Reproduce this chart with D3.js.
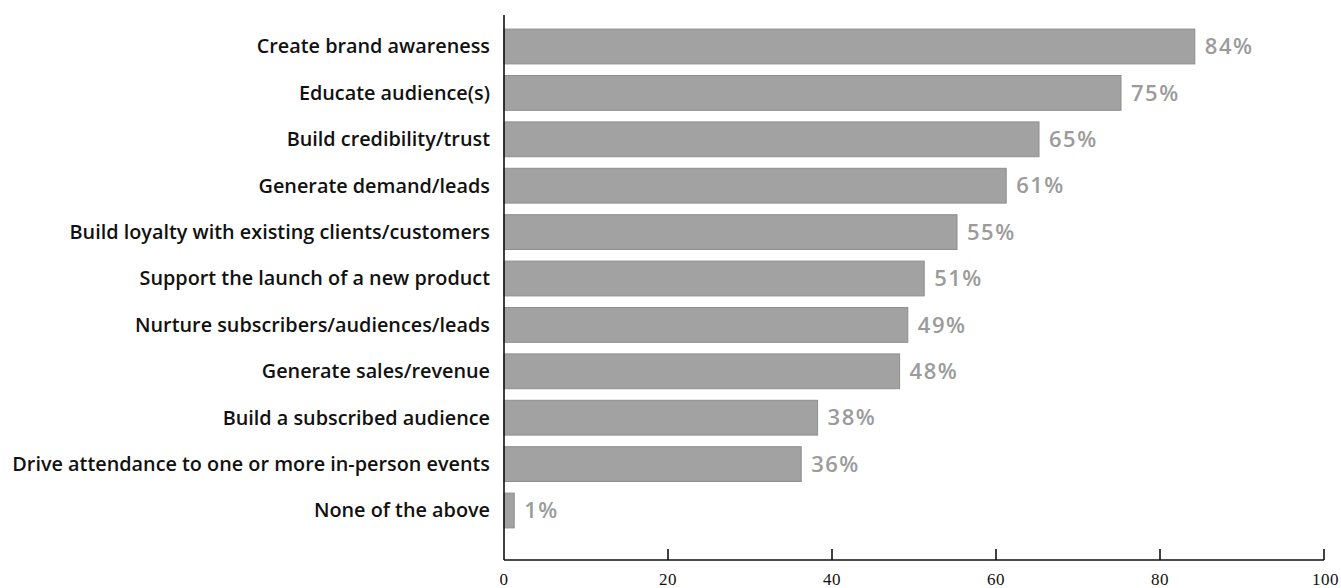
<!DOCTYPE html>
<html>
<head>
<meta charset="utf-8">
<script src="https://cdn.jsdelivr.net/npm/d3@7"></script>
<style>
    body { margin: 0; background: #fff; }
    svg { display: block; }
    .cat-label { font-family: "Open Sans", sans-serif; font-weight: 600; fill: #111; }
    .value-label { font-family: "Open Sans", sans-serif; font-weight: 600; font-size: 22px; letter-spacing: 1.5px; fill: #9b9b9b; }
    .tick-label { font-family: "Liberation Serif", serif; font-size: 17px; letter-spacing: 0.5px; fill: #111; }
</style>
</head>
<body>
<script>
    'use strict';

    const categories = [
        'Create brand awareness',
        'Educate audience(s)',
        'Build credibility/trust',
        'Generate demand/leads',
        'Build loyalty with existing clients/customers',
        'Support the launch of a new product',
        'Nurture subscribers/audiences/leads',
        'Generate sales/revenue',
        'Build a subscribed audience',
        'Drive attendance to one or more in-person events',
        'None of the above'
    ];
    const values = [84, 75, 65, 61, 55, 51, 49, 48, 38, 36, 1];
    const xTicks = [0, 20, 40, 60, 80, 100];

    const width = 1341, height = 588;
    const x0 = 504, x1 = 1324, axisY = 560, axisTop = 15;

    const svg = d3.select('body').append('svg')
        .attr('width', width)
        .attr('height', height);

    const x = d3.scaleLinear().domain([0, 100]).range([x0, x1]);
    const y = d3.scaleBand()
        .domain(categories)
        .range([23.3, 533.7])
        .paddingInner(0.25)
        .paddingOuter(0.125);

    const data = categories.map((c, i) => ({ category: c, value: values[i] }));

    // bars
    svg.append('g').selectAll('rect')
        .data(data)
        .enter()
        .append('rect')
        .attr('x', x(0))
        .attr('y', d => y(d.category))
        .attr('width', d => x(d.value) - x(0) + 2)
        .attr('height', y.bandwidth())
        .attr('fill', '#a2a2a2')
        .attr('stroke', '#8e8e8e')
        .attr('stroke-width', 1);

    // value labels
    svg.append('g').selectAll('text')
        .data(data)
        .enter()
        .append('text')
        .attr('class', 'value-label')
        .attr('x', d => x(d.value) + 12)
        .attr('y', d => y(d.category) + y.bandwidth() / 2)
        .attr('dy', '0.35em')
        .text(d => d.value + '%');

    // category labels, sized so the longest one fills the gap left of the axis
    const catLabels = svg.append('g').selectAll('text')
        .data(data)
        .enter()
        .append('text')
        .attr('class', 'cat-label')
        .attr('x', 490)
        .attr('y', d => y(d.category) + y.bandwidth() / 2)
        .attr('dy', '0.35em')
        .attr('text-anchor', 'end')
        .style('font-size', '16px')
        .text(d => d.category);

    let longest = 0;
    catLabels.each(function () { longest = Math.max(longest, this.getComputedTextLength()); });
    catLabels.style('font-size', (16 * 478 / longest) + 'px');

    // axes
    const axes = svg.append('g')
        .attr('stroke', '#111')
        .attr('stroke-width', 1.6)
        .attr('fill', 'none');

    axes.append('line')
        .attr('x1', x0).attr('x2', x0)
        .attr('y1', axisTop).attr('y2', axisY);

    axes.append('line')
        .attr('x1', x0).attr('x2', x(100))
        .attr('y1', axisY).attr('y2', axisY);

    axes.selectAll('.tick')
        .data(xTicks.slice(1))
        .enter()
        .append('line')
        .attr('x1', d => x(d)).attr('x2', d => x(d))
        .attr('y1', axisY - 11).attr('y2', axisY);

    svg.append('g').selectAll('text')
        .data(xTicks)
        .enter()
        .append('text')
        .attr('class', 'tick-label')
        .attr('x', d => x(d))
        .attr('y', 573)
        .attr('dy', '0.71em')
        .attr('text-anchor', d => d === 100 ? 'end' : 'middle')
        .attr('dx', d => d === 100 ? 15 : 0)
        .text(d => d);
</script>
</body>
</html>
